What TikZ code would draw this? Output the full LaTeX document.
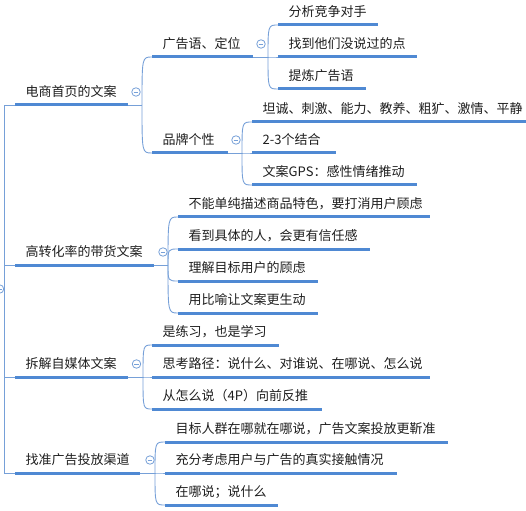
\documentclass[tikz,border=0pt]{standalone}
\usepackage{fontspec}
\setmainfont{Noto Sans CJK SC}
\usetikzlibrary{calc}
\definecolor{ubar}{HTML}{4F89D3}
\definecolor{cthin}{HTML}{76A0D8}
\definecolor{ink}{HTML}{1E1E1E}
\tikzset{
  txt/.style={anchor=base west, inner sep=0pt, font=\fontsize{13}{15}\selectfont, text=ink},
  ubarline/.style={draw=ubar, line width=3pt},
  conn/.style={draw=cthin, line width=0.9pt},
  collapse/.style={circle, draw=cthin, line width=0.8pt, minimum size=8.5pt, inner sep=0pt, fill=white,
    path picture={\draw[cthin, line width=0.8pt] ([xshift=-2.3pt]path picture bounding box.center) -- ([xshift=2.3pt]path picture bounding box.center);}},
}
\newcommand\topic[5]{%
  \coordinate (#1-l) at (#2,#4);
  \coordinate (#1-r) at (#3,#4);
  \node[txt] (#1) at (#2+10.5,#4-8.4) {#5};
  \draw[ubarline] (#1-l) -- (#1-r);
}
\newcommand\branch[2]{%
  \draw[conn] (#1) .. controls (#1 |- #2-l) .. (#2-l);
}
\begin{document}
\begin{tikzpicture}[x=1pt,y=-1pt]
\useasboundingbox (0,0) rectangle (526,510);
% root
\coordinate (root) at (4.5,289);
% level 1
\topic{a}{15}{128}{105}{电商首页的文案}
\topic{b}{15}{154}{265}{高转化率的带货文案}
\topic{c}{15}{128}{377}{拆解自媒体文案}
\topic{d}{15}{140}{473}{找准广告投放渠道}
% level 2
\topic{a1}{152}{253}{57}{广告语、定位}
\topic{a2}{152}{228}{153}{品牌个性}
\topic{a11}{278}{378}{25}{分析竞争对手}
\topic{a12}{278}{417}{57}{找到他们没说过的点}
\topic{a13}{278}{366}{89}{提炼广告语}
\topic{a21}{252}{526}{122}{坦诚、刺激、能力、教养、粗犷、激情、平静}
\topic{a22}{252}{336}{153}{2-3个结合}
\topic{a23}{252}{417}{185}{文案GPS：感性情绪推动}
\topic{b1}{178}{430}{217}{不能单纯描述商品特色，要打消用户顾虑}
\topic{b2}{178}{370}{249}{看到具体的人，会更有信任感}
\topic{b3}{178}{318}{281}{理解目标用户的顾虑}
\topic{b4}{178}{318}{313}{用比喻让文案更生动}
\topic{c1}{152}{279}{345}{是练习，也是学习}
\topic{c2}{152}{430}{377}{思考路径：说什么、对谁说、在哪说、怎么说}
\topic{c3}{152}{322}{409}{从怎么说（4P）向前反推}
\topic{d1}{165}{448}{442}{目标人群在哪就在哪说，广告文案投放更靳准}
\topic{d2}{165}{397}{473}{充分考虑用户与广告的真实接触情况}
\topic{d3}{165}{278}{505}{在哪说；说什么}
% root connectors
\draw[conn] (root) |- (a-l);
\draw[conn] (root) |- (b-l);
\draw[conn] (root) |- (c-l);
\draw[conn] (root) |- (d-l);
% junctions
\coordinate (a-j) at (142,105);
\coordinate (a1-j) at (268,57);
\coordinate (a2-j) at (242,153);
\coordinate (b-j) at (168,265);
\coordinate (c-j) at (143,377);
\coordinate (d-j) at (155,473);
\draw[conn] (a-r) -- (a-j);
\draw[conn] (a1-r) -- (a1-j);
\draw[conn] (a2-r) -- (a2-j);
\draw[conn] (b-r) -- (b-j);
\draw[conn] (c-r) -- (c-j);
\draw[conn] (d-r) -- (d-j);
\branch{a-j}{a1}\branch{a-j}{a2}
\branch{a1-j}{a11}\branch{a1-j}{a12}\branch{a1-j}{a13}
\branch{a2-j}{a21}\branch{a2-j}{a22}\branch{a2-j}{a23}
\branch{b-j}{b1}\branch{b-j}{b2}\branch{b-j}{b3}\branch{b-j}{b4}
\branch{c-j}{c1}\branch{c-j}{c2}\branch{c-j}{c3}
\branch{d-j}{d1}\branch{d-j}{d2}\branch{d-j}{d3}
% collapse markers
\node[collapse] (rootc) at (-0.5,289) {};
\node[collapse] (ac) at (136,92) {};
\node[collapse] (bc) at (163,252) {};
\node[collapse] (cc) at (136.5,364) {};
\node[collapse] (dc) at (150,460) {};
\node[collapse] (a1c) at (261,44) {};
\node[collapse] (a2c) at (236,140) {};
\end{tikzpicture}
\end{document}
